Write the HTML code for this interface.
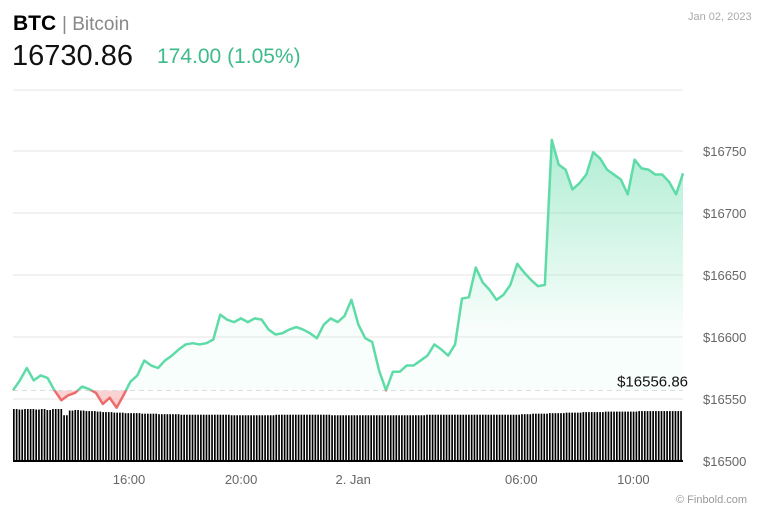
<!DOCTYPE html>
<html><head><meta charset="utf-8"><style>
body{margin:0;width:768px;height:512px;background:#fff;font-family:"Liberation Sans",sans-serif;overflow:hidden;position:relative}
.t{position:absolute;white-space:nowrap}
</style></head><body>
<div class="t" style="left:13px;top:12px;font-size:21px;"><b>BTC</b> <span style="color:#888;font-size:19px">| Bitcoin</span></div>
<div class="t" style="left:12px;top:40px;font-size:29px;color:#111">16730.86</div>
<div class="t" style="left:157px;top:45px;font-size:21px;color:#3dbb8a">174.00 (1.05%)</div>
<div class="t" style="left:688px;top:11px;font-size:11px;color:#aaa">Jan 02, 2023</div>
<div class="t" style="left:676px;top:494px;font-size:11px;color:#999">© Finbold.com</div>
<svg id="c" width="768" height="512" style="position:absolute;left:0;top:0"></svg>
<script>
const prices=[16557,16565,16575,16565,16569,16567,16557,16549,16553,16555,16560,16558,16555,16546,16551,16543,16553,16564,16569,16581,16577,16575,16581,16585,16590,16594,16595,16594,16595,16598,16618,16614,16612,16615,16612,16615,16614,16606,16602,16603,16606,16608,16606,16603,16599,16610,16615,16612,16617,16630,16610,16599,16596,16573,16557,16572,16572,16577,16577,16581,16585,16594,16590,16585,16594,16631,16632,16656,16644,16638,16630,16634,16642,16659,16652,16646,16641,16642,16759,16739,16735,16719,16724,16731,16749,16744,16735,16731,16727,16715,16743,16736,16735,16731,16731,16725,16715,16732];
const basePrice=16556.86;
const yTicks=[16500,16550,16600,16650,16700,16750];
const xTickLabels=["16:00","20:00","2. Jan","06:00","10:00"];
const xTickHours=[16,20,24,30,34];
const volumes=[100,99,100,100,99,100,98,100,100,88,97,98,97,96,96,95,94,94,93,93,92,92,92,91,91,91,90,90,90,90,89,89,89,89,89,89,89,89,89,88,88,88,88,88,88,88,88,89,89,89,89,89,89,89,89,89,89,88,88,88,88,88,88,88,88,88,88,88,88,88,88,88,88,88,89,89,89,89,89,89,89,89,89,89,89,89,89,89,89,89,89,90,90,91,91,91,92,92,92,93,93,93,94,94,94,94,95,95,95,95,95,95,96,96,96,96,96,96,96,96];
const NS="http://www.w3.org/2000/svg",svg=document.getElementById('c');
const X0=13,X1=683,T0=11.86,T1=35.77;
const xT=h=>X0+(h-T0)/(T1-T0)*(X1-X0);
const xi=i=>X0+i*(X1-X0)/(prices.length-1);
const y=v=>399-(v-16550)*1.24;
function el(t,a,p){const e=document.createElementNS(NS,t);for(const k in a)e.setAttribute(k,a[k]);(p||svg).appendChild(e);return e;}
const defs=el('defs',{});
defs.innerHTML='<linearGradient id="g" gradientUnits="userSpaceOnUse" x1="0" y1="140" x2="0" y2="330"><stop offset="0" stop-color="#5fdba8" stop-opacity="0.5"/><stop offset="1" stop-color="#5fdba8" stop-opacity="0.04"/></linearGradient><clipPath id="up"><rect x="0" y="0" width="768" height="'+y(basePrice)+'"/></clipPath><clipPath id="dn"><rect x="0" y="'+y(basePrice)+'" width="768" height="200"/></clipPath>';
let l=el('line',{x1:13,x2:683,y1:90,y2:90,stroke:'#e6e6e6'});


yTicks.forEach(v=>{
 const g=el('line',{x1:13,x2:683,y1:y(v),y2:y(v),stroke:'#e6e6e6'});
 
 
 const t=el('text',{x:703,y:y(v)+5,'font-size':13,fill:'#666','font-family':'Liberation Sans'});t.textContent='$'+v;
 
 
});
// volume bars (each interval drawn as two thin bars)
const vb=461,bw=(X1-X0)/volumes.length;
volumes.forEach((v,i)=>{
 for(let k=0;k<2;k++){
  const r=el('rect',{x:X0+i*bw+k*bw/2,y:vb-v*0.52,width:bw*0.3,height:v*0.52,fill:'#000'});
  
  
 }
});
el('line',{x1:13,x2:683,y1:461,y2:461,stroke:'#000','stroke-width':2});
const pts=prices.map((p,i)=>xi(i)+','+y(p)).join(' ');
const yb=y(basePrice);
let a=el('polygon',{points:X0+','+yb+' '+pts+' '+X1+','+yb,fill:'url(#g)','clip-path':'url(#up)'});


a=el('polygon',{points:X0+','+yb+' '+pts+' '+X1+','+yb,fill:'#f4a5a5','fill-opacity':0.5,'clip-path':'url(#dn)'});


const bl=el('line',{x1:13,x2:683,y1:yb,y2:yb,stroke:'#ddd','stroke-dasharray':'5,4'});


let pl=el('polyline',{points:pts,fill:'none',stroke:'#5fdba8','stroke-width':2.5,'clip-path':'url(#up)','stroke-linejoin':'round'});


pl=el('polyline',{points:pts,fill:'none',stroke:'#ee6b6b','stroke-width':2.5,'clip-path':'url(#dn)','stroke-linejoin':'round'});


const bt=el('text',{x:688,y:yb-4,'font-size':15,fill:'#111','text-anchor':'end','font-family':'Liberation Sans'});bt.textContent='$'+basePrice.toFixed(2);


xTickLabels.forEach((s,i)=>{
 const t=el('text',{x:xT(xTickHours[i]),y:484,'font-size':13,fill:'#666','text-anchor':'middle','font-family':'Liberation Sans'});t.textContent=s;
 
 
});
</script>
</body></html>
